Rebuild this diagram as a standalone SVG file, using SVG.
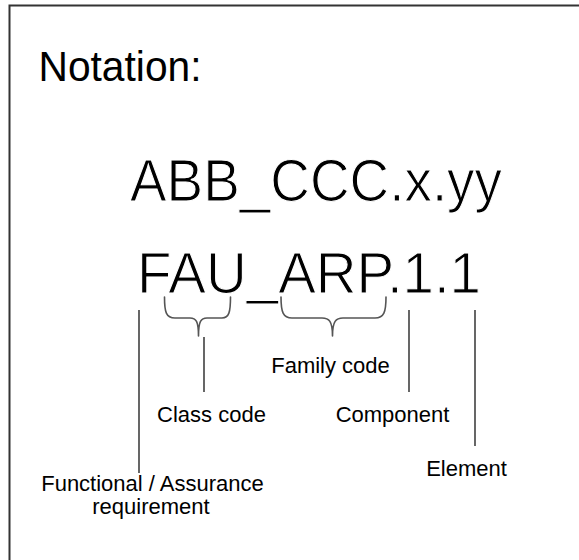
<svg xmlns="http://www.w3.org/2000/svg" width="579" height="560" viewBox="0 0 579 560">
<style>
.t{font-family:"Liberation Sans",Arial,sans-serif;fill:#000}
.big{stroke:#fff;stroke-width:1.1}
.lbl{font-size:22px;text-anchor:middle}
.ln{stroke:#000;stroke-width:1.2;fill:none}
.br{stroke:#555;stroke-width:1.6;fill:none;stroke-linecap:round;stroke-linejoin:round}
</style>
<rect width="579" height="560" fill="#fff"/>
<g id="frame">
<path d="M9.5,560 V5.5 H579" fill="none" stroke="#333" stroke-width="2"/>
</g>
<g id="title"><text class="t" x="38.5" y="80.5" font-size="42" textLength="163" lengthAdjust="spacingAndGlyphs">Notation:</text></g>
<g id="pattern"><text class="t big" x="130" y="201" font-size="59" textLength="372" lengthAdjust="spacingAndGlyphs">ABB_CCC.x.yy</text></g>
<g id="example"><text class="t big" x="137" y="293" font-size="57" textLength="344" lengthAdjust="spacingAndGlyphs">FAU_ARP.1.1</text></g>
<g id="connectors">
<path class="br" d="M164.5,297 C164.5,312 166,318 175,318 L190,318 C196,318 198.5,321 198.5,336 C198.5,321 201,318 207,318 L222,318 C229,318 230.5,312 230.5,297"/>
<path class="br" d="M281,297 C281,312 283,318 292,318 L322,318 C329,318 332.5,321 332.5,336 C332.5,321 336,318 343,318 L375,318 C384,318 386,312 386,297"/>
<line class="ln" x1="139" y1="310" x2="139" y2="473"/>
<line class="ln" x1="204" y1="337" x2="204" y2="392"/>
<line class="ln" x1="409" y1="310" x2="409" y2="392"/>
<line class="ln" x1="475" y1="310" x2="475" y2="446"/>
</g>
<g id="family"><text class="t lbl" x="330.5" y="373">Family code</text></g>
<g id="class"><text class="t lbl" x="211.5" y="422">Class code</text></g>
<g id="component"><text class="t lbl" x="392.5" y="422">Component</text></g>
<g id="element"><text class="t lbl" x="466.5" y="476">Element</text></g>
<g id="functional"><text class="t lbl" x="152.5" y="491">Functional / Assurance</text><text class="t lbl" x="151" y="514">requirement</text></g>
</svg>
